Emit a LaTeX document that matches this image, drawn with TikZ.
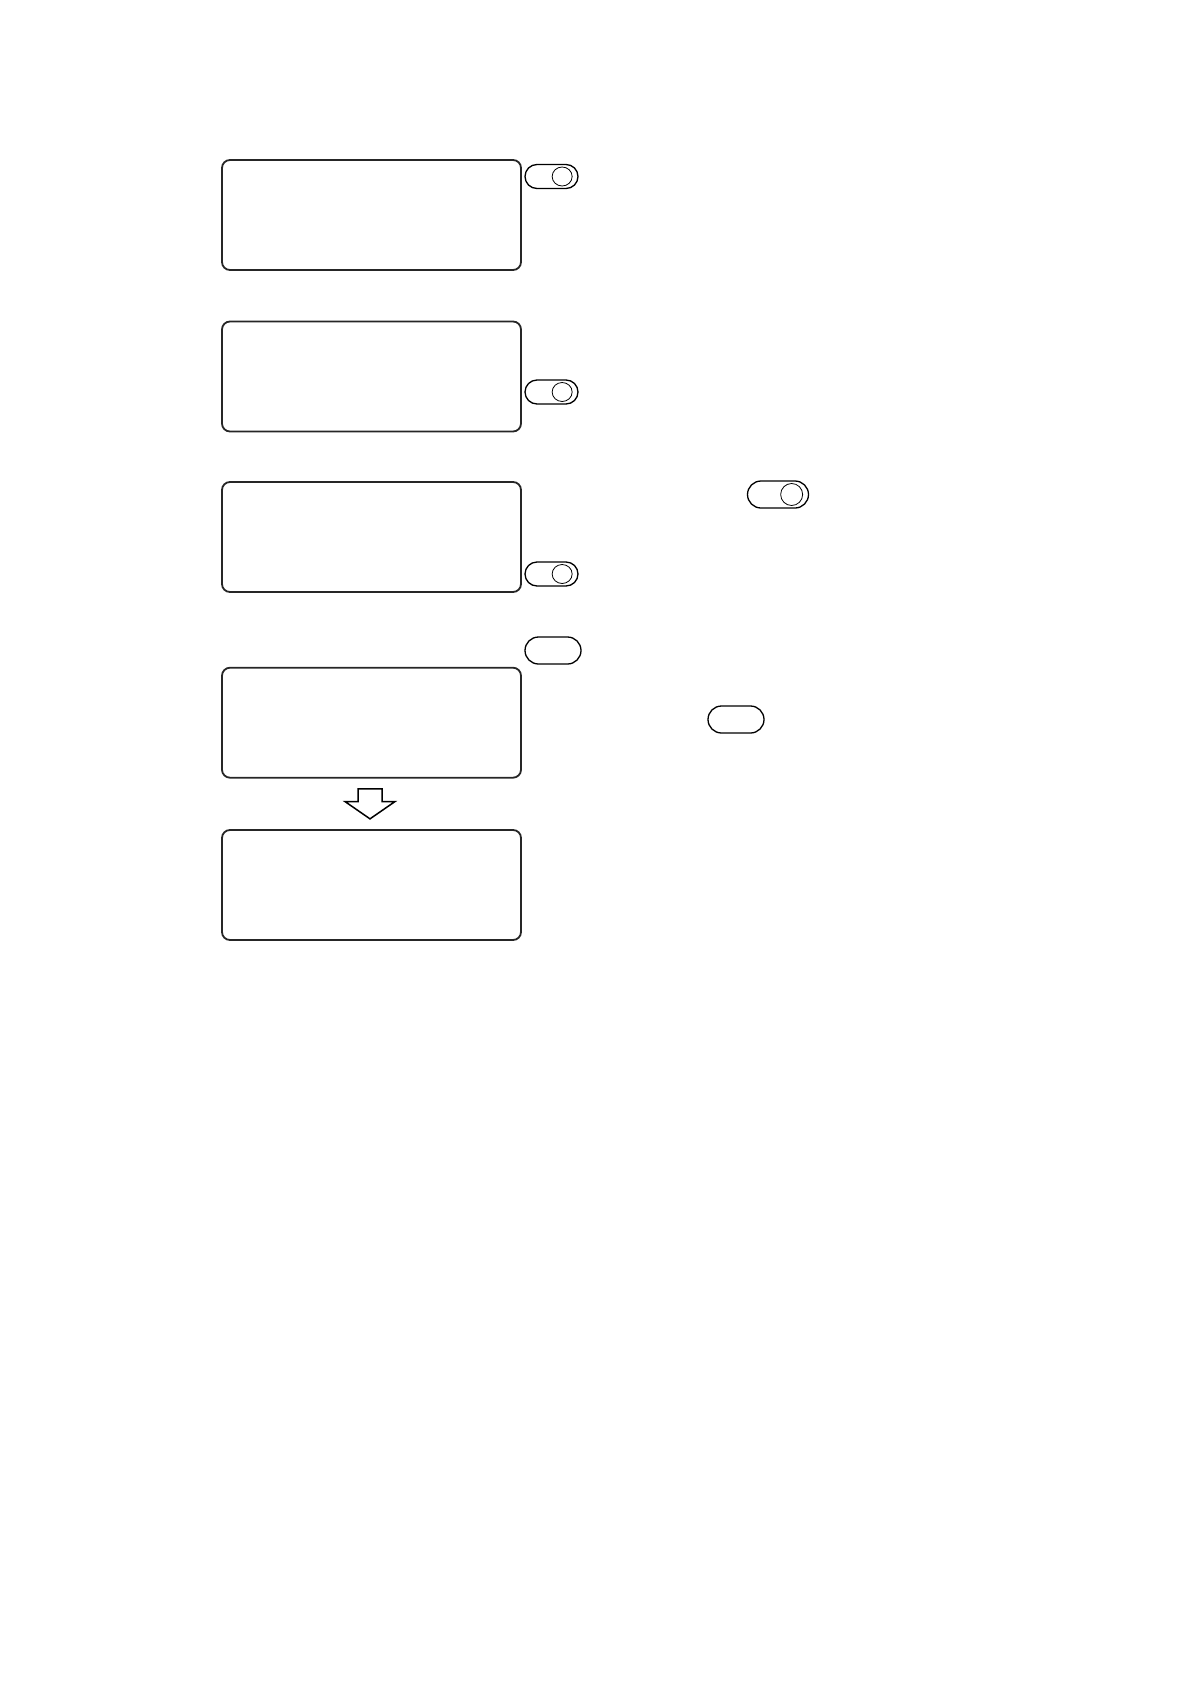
\documentclass[tikz,border=0pt]{standalone}
\usetikzlibrary{calc}
\begin{document}
\begin{tikzpicture}[x=1pt,y=-1pt,
  lcd/.style={draw=black!85, line width=1.8pt, rounded corners=8pt, minimum width=299pt, minimum height=110pt, inner sep=0pt},
  keybtn/.style={draw, line width=1.3pt, rounded corners=12pt, minimum width=53pt, minimum height=24pt, inner sep=0pt},
  widebtn/.style={draw, line width=1.3pt, rounded corners=13.5pt, minimum width=56pt, minimum height=27pt, inner sep=0pt},
  knob/.style={draw, line width=0.8pt},
  blockarrow/.style={draw, line width=1.5pt, line join=miter, fill=white}]
\useasboundingbox (0,0) rectangle (1190,1684);
% display boxes
\node[lcd] (s1) at (371.5,215) {};
\node[lcd] (s2) at (371.5,376.5) {};
\node[lcd] (s3) at (371.5,537) {};
\node[lcd] (s4) at (371.5,722.7) {};
\node[lcd] (s5) at (371.5,885) {};
% keys with knob
\node[keybtn] (b1) at (551.5,176.5) {};
\node[keybtn] (b2) at (551.5,392) {};
\node[keybtn] (b3) at (551.5,574) {};
\node[widebtn, minimum width=61pt] (b4) at (778,494.5) {};
\draw[knob] ($(b1.east)+(-16.5,0)$) ellipse [x radius=10pt, y radius=9.5pt];
\draw[knob] ($(b2.east)+(-16.5,0)$) ellipse [x radius=10pt, y radius=9.5pt];
\draw[knob] ($(b3.east)+(-16.5,0)$) ellipse [x radius=10pt, y radius=9.5pt];
\draw[knob] ($(b4.east)+(-17.5,0)$) ellipse [x radius=11pt, y radius=11pt];
% plain keys
\node[widebtn] (b5) at (553,650.5) {};
\node[widebtn] (b6) at (736,719.5) {};
% block arrow between s4 and s5
\coordinate (ar) at ($(s4.south)!0.5!(s5.north)$);
\draw[blockarrow] ($(ar)+(-13.5,-15)$) -- ($(ar)+(10.5,-15)$) -- ($(ar)+(10.5,-2.3)$) -- ($(ar)+(23.5,-2.3)$)
  -- ($(ar)+(-1.5,15)$) -- ($(ar)+(-26.5,-2.3)$) -- ($(ar)+(-13.5,-2.3)$) -- cycle;
\end{tikzpicture}
\end{document}
